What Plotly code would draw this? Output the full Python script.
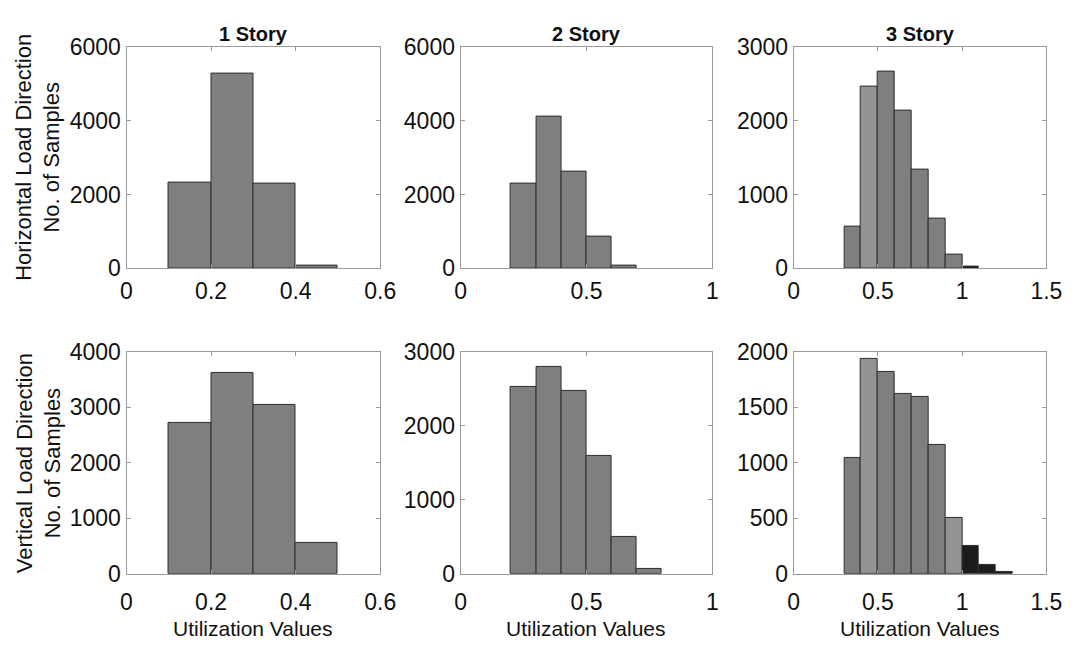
import plotly.graph_objects as go

# ---------------- data ----------------
BIN_WIDTH = 0.1

# Horizontal load direction
h1_edges = [0.1, 0.2, 0.3, 0.4]
h1_counts = [2310, 5260, 2290, 80]

h2_edges = [0.2, 0.3, 0.4, 0.5, 0.6]
h2_counts = [2300, 4100, 2620, 860, 80]

h3_edges = [0.3, 0.4, 0.5, 0.6, 0.7, 0.8, 0.9, 1.0]
h3_counts = [560, 2460, 2665, 2135, 1335, 672, 183, 22]

# Vertical load direction
v1_edges = [0.1, 0.2, 0.3, 0.4]
v1_counts = [2720, 3630, 3050, 560]

v2_edges = [0.2, 0.3, 0.4, 0.5, 0.6, 0.7]
v2_counts = [2522, 2800, 2478, 1591, 496, 70]

v3_edges = [0.3, 0.4, 0.5, 0.6, 0.7, 0.8, 0.9, 1.0, 1.1, 1.2]
v3_counts = [1043, 1933, 1817, 1617, 1594, 1157, 499, 255, 75, 20]

col_titles = ["1 Story", "2 Story", "3 Story"]
row_titles = ["Horizontal Load Direction<br>No. of Samples",
              "Vertical Load Direction<br>No. of Samples"]
x_title = "Utilization Values"

x_ranges = [[0, 0.6], [0, 1], [0, 1.5]]
x_ticks = [[0, 0.2, 0.4, 0.6], [0, 0.5, 1], [0, 0.5, 1, 1.5]]
x_ticktext = [["0", "0.2", "0.4", "0.6"], ["0", "0.5", "1"], ["0", "0.5", "1", "1.5"]]
y_ranges = [[0, 6000], [0, 6000], [0, 3000], [0, 4000], [0, 3000], [0, 2000]]
y_dticks = [2000, 2000, 1000, 1000, 1000, 500]

# ---------------- styling ----------------
W, H = 1083, 652
GRAY = "#7f7f7f"
LIGHT = "#939393"
DARK = "#1c1c1c"
EDGE = "#2e2e2e"
FONT = "Liberation Sans, Arial, sans-serif"

col_px = [(123, 382), (464, 721), (804, 1062)]
row_px = [(35, 266), (353, 584)]
x_label_standoff = [2, 8]

panels = [
    (h1_edges, h1_counts), (h2_edges, h2_counts), (h3_edges, h3_counts),
    (v1_edges, v1_counts), (v2_edges, v2_counts), (v3_edges, v3_counts),
]


def bar_colors(idx, edges):
    cols = []
    for i, e in enumerate(edges):
        if e >= 1.0 - 1e-9:
            cols.append(DARK)
        elif (idx == 2 and i == 1) or (idx == 5 and i in (1, 6)):
            cols.append(LIGHT)
        else:
            cols.append(GRAY)
    return cols


fig = go.Figure()
layout = dict(
    width=W, height=H,
    margin=dict(l=0, r=0, t=0, b=0),
    paper_bgcolor="white", plot_bgcolor="white",
    showlegend=False, bargap=0,
    font=dict(family=FONT, size=20, color="#111"),
)
annotations = []

for idx, (edges, counts) in enumerate(panels):
    r, c = divmod(idx, 3)
    n = idx + 1
    xa = "x" if n == 1 else f"x{n}"
    ya = "y" if n == 1 else f"y{n}"
    centers = [e + BIN_WIDTH / 2 for e in edges]
    fig.add_trace(go.Bar(
        x=centers, y=counts, width=BIN_WIDTH,
        marker=dict(color=bar_colors(idx, edges), line=dict(color=EDGE, width=1)),
        xaxis=xa, yaxis=ya, hoverinfo="x+y",
    ))
    x0, x1 = col_px[c]
    y0, y1 = row_px[r]
    common = dict(
        showgrid=False, zeroline=False, showline=True, mirror="ticks",
        linecolor="#9a9a9a", linewidth=1, ticks="inside", ticklen=4,
        tickcolor="#9a9a9a", tickfont=dict(family=FONT, size=23, color="#111"),
    )
    layout["xaxis" if n == 1 else f"xaxis{n}"] = dict(
        domain=[x0 / W, x1 / W], anchor=ya, range=x_ranges[c],
        tickvals=x_ticks[c], ticktext=x_ticktext[c],
        ticklabelstandoff=x_label_standoff[r], **common,
    )
    layout["yaxis" if n == 1 else f"yaxis{n}"] = dict(
        domain=[1 - y1 / H, 1 - y0 / H], anchor=xa, range=y_ranges[idx],
        tick0=0, dtick=y_dticks[idx], **common,
    )
    if r == 0:
        annotations.append(dict(
            text=f"<b>{col_titles[c]}</b>", xref="paper", yref="paper",
            x=(x0 + x1) / 2 / W, y=1 - 22 / H, xanchor="center", yanchor="middle",
            showarrow=False, font=dict(family=FONT, size=20, color="#111"),
        ))
    else:
        annotations.append(dict(
            text=x_title, xref="paper", yref="paper",
            x=(x0 + x1) / 2 / W, y=1 - 641 / H, xanchor="center", yanchor="middle",
            showarrow=False, font=dict(family=FONT, size=21, color="#111"),
        ))
    if c == 0:
        annotations.append(dict(
            text=row_titles[r], xref="paper", yref="paper",
            x=33 / W, y=1 - (y0 + y1) / 2 / H, xanchor="center", yanchor="middle",
            textangle=-90, showarrow=False,
            font=dict(family=FONT, size=22, color="#111"),
        ))

layout["annotations"] = annotations
fig.update_layout(**layout)
fig.write_html("out.html")
